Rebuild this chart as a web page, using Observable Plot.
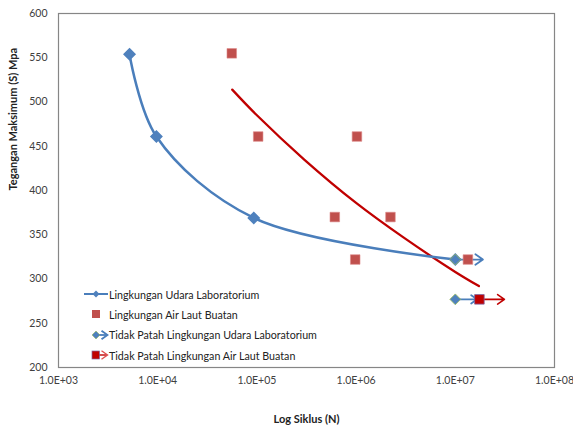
<!DOCTYPE html>
<html><head><meta charset="utf-8">
<script src="https://cdn.jsdelivr.net/npm/d3@7"></script>
<script src="https://cdn.jsdelivr.net/npm/@observablehq/plot@0.6"></script>
<style>
body{margin:0;background:#fff;}
#wrap{position:relative;width:573px;height:434px;font-family:Lato,"Open Sans",sans-serif;}
#legend{position:absolute;left:82px;top:284px;font-size:10.7px;color:#222;font-family:Lato,"Open Sans",sans-serif;}
.item{height:20.3px;display:flex;align-items:center;white-space:nowrap;}
.item svg{width:27px;height:14px;flex:none;}
</style></head><body><div id="wrap"><div id="legend"></div></div>
<script>
// Lingkungan Udara Laboratorium (blue, smoothed line)
const blueN = [5200, 9700, 93000, 10000000];
const blueS = [554, 461, 369, 322];
// Lingkungan Air Laut Buatan (red squares)
const redN = [55800, 103000, 1020000, 610000, 2220000, 980000, 13400000];
const redS = [555, 461, 461, 370, 370, 322, 322];
// red trend line
const trendN = [56400, 100000, 300000, 1000000, 3000000, 10000000, 17300000];
const trendS = [514, 485, 435, 386, 347, 308, 292];
// Tidak Patah (run-outs)
const runBlueN = [10000000, 10000000];
const runBlueS = [322, 277];
const runBlueTip = [19000000, 16600000];
const runRedN = [17500000];
const runRedS = [277];
const runRedTip = [31300000];

const xTicks = [1e3, 1e4, 1e5, 1e6, 1e7, 1e8];
const yTicks = [200, 250, 300, 350, 400, 450, 500, 550, 600];
const xLabel = "Log Siklus (N)";
const yLabel = "Tegangan Maksimum (S) Mpa";
const legendLabels = [
  "Lingkungan Udara Laboratorium",
  "Lingkungan Air Laut Buatan",
  "Tidak Patah Lingkungan Udara Laboratorium",
  "Tidak Patah Lingkungan Air Laut Buatan"
];

const BLUE = "#4A7EBB", BLUEF = "#4F81BD", RED = "#C0504D", DRED = "#C00000";

const blue = blueN.map((n, i) => ({n, s: blueS[i]}));
const red = redN.map((n, i) => ({n, s: redS[i]}));
const trend = trendN.map((n, i) => ({n, s: trendS[i]}));
const runBlue = runBlueN.map((n, i) => ({n, s: runBlueS[i], t: runBlueTip[i]}));
const runRed = runRedN.map((n, i) => ({n, s: runRedS[i], t: runRedTip[i]}));

const fmt = d => "1.0E+" + String(Math.round(Math.log10(d))).padStart(2, "0");

const chart = Plot.plot({
  width: 573, height: 434,
  marginLeft: 58, marginRight: 19, marginTop: 13, marginBottom: 67,
  style: {fontFamily: "Lato, 'Open Sans', sans-serif", background: "#fff"},
  x: {type: "log", domain: [1e3, 1e8]},
  y: {domain: [200, 600]},
  marks: [
    Plot.frame({stroke: "#868686", strokeWidth: 1.2}),
    Plot.axisX({ticks: xTicks, tickFormat: fmt, tickSize: 0, tickPadding: 9, fontSize: 10.5, fill: "#404040", label: null}),
    Plot.axisY({ticks: yTicks, tickSize: 0, tickPadding: 11, fontSize: 10.5, fill: "#404040", label: null}),
    Plot.text([yLabel], {frameAnchor: "left", rotate: -90, dx: -45, fontSize: 11, fontWeight: "bold", fill: "#222"}),
    Plot.text([xLabel], {frameAnchor: "bottom", dy: 55, fontSize: 11, fontWeight: "bold", fill: "#222"}),
    Plot.line(trend, {x: "n", y: "s", stroke: DRED, strokeWidth: 2.3, curve: "catmull-rom"}),
    Plot.line(blue, {x: "n", y: "s", stroke: BLUE, strokeWidth: 2.5, curve: "catmull-rom"}),
    Plot.arrow(runBlue, {x1: "n", y1: "s", x2: "t", y2: "s", stroke: BLUE, strokeWidth: 1.8, headLength: 9, headAngle: 70}),
    Plot.arrow(runRed, {x1: "n", y1: "s", x2: "t", y2: "s", stroke: DRED, strokeWidth: 1.6, headLength: 9, headAngle: 70}),
    Plot.dot(red, {x: "n", y: "s", symbol: "square", r: 5.4, fill: RED, stroke: "#D88", strokeWidth: 0.6}),
    Plot.dot(blue, {x: "n", y: "s", symbol: "diamond2", r: 4.9, fill: BLUEF, stroke: BLUEF}),
    Plot.dot(runBlue, {x: "n", y: "s", symbol: "diamond2", r: 4.9, fill: BLUEF, stroke: "#9BBB59", strokeWidth: 0.8}),
    Plot.dot(runRed, {x: "n", y: "s", symbol: "square", r: 5.4, fill: DRED, stroke: "#8064A2", strokeWidth: 0.8})
  ]
});
document.getElementById("wrap").prepend(chart);

const icons = [
  `<svg><line x1="2" y1="7" x2="26" y2="7" stroke="${BLUE}" stroke-width="2"/><path d="M14 3.5L17.5 7L14 10.5L10.5 7Z" fill="${BLUEF}"/></svg>`,
  `<svg><rect x="10" y="3" width="8" height="8" fill="${RED}"/></svg>`,
  `<svg><line x1="14" y1="7" x2="25" y2="7" stroke="${BLUE}" stroke-width="1.8"/><path d="M19.5 2.8L25.5 7L19.5 11.2" fill="none" stroke="${BLUE}" stroke-width="1.8"/><path d="M14 3L18 7L14 11L10 7Z" fill="${BLUEF}" stroke="#9BBB59" stroke-width="0.6"/></svg>`,
  `<svg><line x1="14" y1="7" x2="25" y2="7" stroke="${DRED}" stroke-width="1.4"/><path d="M19.5 2.8L25.5 7L19.5 11.2" fill="none" stroke="#E05050" stroke-width="1.4"/><rect x="10" y="3" width="7.5" height="8" fill="${DRED}" stroke="#8064A2" stroke-width="0.7"/></svg>`
];
const leg = document.getElementById("legend");
legendLabels.forEach((l, i) => {
  const d = document.createElement("div");
  d.className = "item";
  d.innerHTML = icons[i] + `<span>${l}</span>`;
  leg.appendChild(d);
});
</script></body></html>
